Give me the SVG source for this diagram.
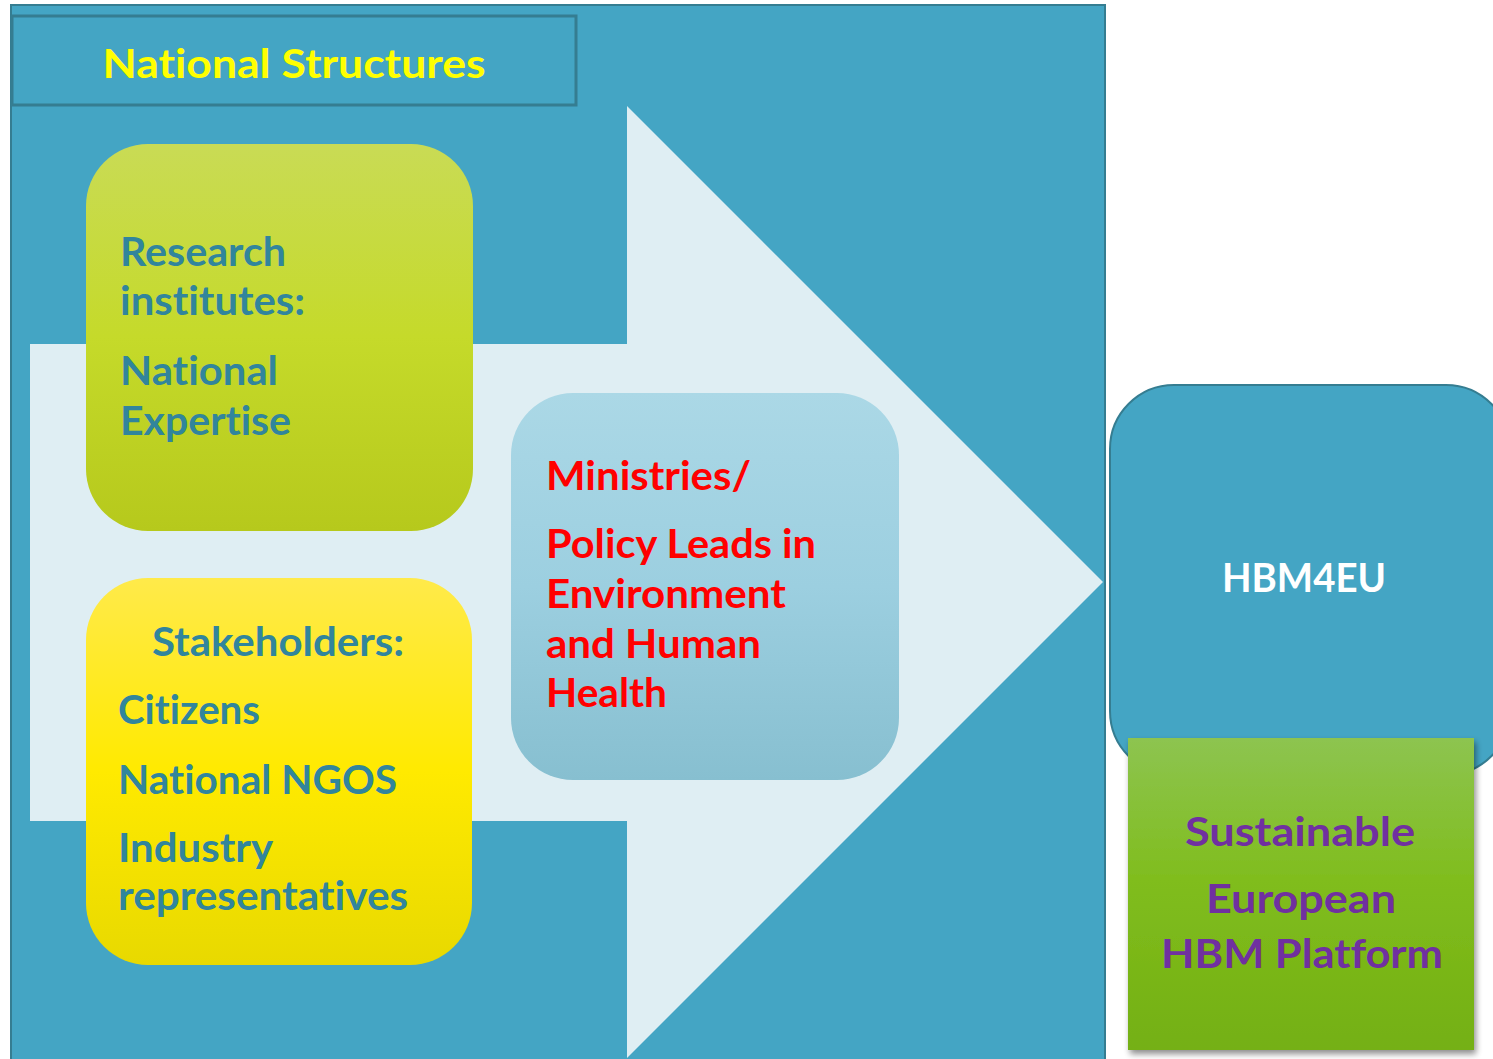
<svg xmlns="http://www.w3.org/2000/svg" width="1493" height="1059" viewBox="0 0 1493 1059">
<defs>
<style>
.t{font-family:Lato,"Open Sans","Liberation Sans",sans-serif;font-weight:bold;font-size:41px;font-variant-ligatures:none;font-feature-settings:"liga" 0,"clig" 0}
.teal{fill:#31859C}
.red{fill:#FF0000}
.pur{fill:#7030A0}
</style>
<linearGradient id="gResearch" x1="0" y1="0" x2="0" y2="1">
<stop offset="0" stop-color="#c9db55"/><stop offset="0.5" stop-color="#c5da2a"/><stop offset="1" stop-color="#b6c91c"/>
</linearGradient>
<linearGradient id="gStake" x1="0" y1="0" x2="0" y2="1">
<stop offset="0" stop-color="#ffea4a"/><stop offset="0.5" stop-color="#ffea00"/><stop offset="1" stop-color="#e8d900"/>
</linearGradient>
<linearGradient id="gMin" x1="0" y1="0" x2="0" y2="1">
<stop offset="0" stop-color="#abd8e6"/><stop offset="0.5" stop-color="#9ccfe0"/><stop offset="1" stop-color="#87bfd0"/>
</linearGradient>
<linearGradient id="gPlat" x1="0" y1="0" x2="0" y2="1">
<stop offset="0" stop-color="#8dc450"/><stop offset="0.45" stop-color="#80bd1e"/><stop offset="1" stop-color="#74b012"/>
</linearGradient>
<filter id="sh" x="-10%" y="-10%" width="125%" height="125%">
<feGaussianBlur in="SourceAlpha" stdDeviation="3"/>
<feOffset dx="2" dy="4"/>
<feComponentTransfer><feFuncA type="linear" slope="0.45"/></feComponentTransfer>
<feMerge><feMergeNode/><feMergeNode in="SourceGraphic"/></feMerge>
</filter>
</defs>
<rect width="1493" height="1059" fill="#ffffff"/>
<g id="panel">
<rect x="11" y="5" width="1094" height="1060" fill="#44a5c4" stroke="#357d91" stroke-width="2"/>
<polygon points="30,344 627,344 627,106 1103,582 627,1058 627,821 30,821" fill="#dfeef3"/>
</g>
<g id="header">
<rect x="12" y="16" width="564" height="89" fill="#44a5c4" stroke="#357d91" stroke-width="3"/>
<text class="t" x="294" y="78" text-anchor="middle" fill="#FFFF00" font-size="43" textLength="383" lengthAdjust="spacingAndGlyphs">National Structures</text>
</g>
<g id="research">
<rect x="86" y="144" width="387" height="387" rx="62" fill="url(#gResearch)"/>
<g class="t teal">
<text x="120" y="266" textLength="166" lengthAdjust="spacingAndGlyphs">Research</text>
<text x="120" y="315" textLength="185" lengthAdjust="spacingAndGlyphs">institutes:</text>
<text x="120" y="385" textLength="158" lengthAdjust="spacingAndGlyphs">National</text>
<text x="120" y="435" textLength="171" lengthAdjust="spacingAndGlyphs">Expertise</text>
</g>
</g>
<g id="stakeholders">
<rect x="86" y="578" width="386" height="387" rx="62" fill="url(#gStake)"/>
<g class="t teal">
<text x="152" y="656" textLength="252" lengthAdjust="spacingAndGlyphs">Stakeholders:</text>
<text x="118" y="724" textLength="142" lengthAdjust="spacingAndGlyphs">Citizens</text>
<text x="118" y="794" textLength="279" lengthAdjust="spacingAndGlyphs">National NGOS</text>
<text x="118" y="862" textLength="155" lengthAdjust="spacingAndGlyphs">Industry</text>
<text x="118" y="910" textLength="290" lengthAdjust="spacingAndGlyphs">representatives</text>
</g>
</g>
<g id="ministries">
<rect x="511" y="393" width="388" height="387" rx="62" fill="url(#gMin)"/>
<g class="t red">
<text x="546" y="490" textLength="205" lengthAdjust="spacingAndGlyphs">Ministries/</text>
<text x="546" y="558" textLength="270" lengthAdjust="spacingAndGlyphs">Policy Leads in</text>
<text x="546" y="608" textLength="240" lengthAdjust="spacingAndGlyphs">Environment</text>
<text x="546" y="658" textLength="215" lengthAdjust="spacingAndGlyphs">and Human</text>
<text x="546" y="707" textLength="121" lengthAdjust="spacingAndGlyphs">Health</text>
</g>
</g>
<g id="hbm4eu">
<rect x="1110" y="385" width="400" height="390" rx="64" fill="#44a5c4" stroke="#357d91" stroke-width="2"/>
<text class="t" x="1304" y="592" text-anchor="middle" fill="#ffffff" textLength="164" lengthAdjust="spacingAndGlyphs">HBM4EU</text>
</g>
<g id="platform">
<rect x="1128" y="738" width="346" height="312" fill="url(#gPlat)" filter="url(#sh)"/>
<g class="t pur" text-anchor="middle">
<text x="1300" y="846" textLength="230" lengthAdjust="spacingAndGlyphs">Sustainable</text>
<text x="1301" y="913" textLength="190" lengthAdjust="spacingAndGlyphs">European</text>
<text x="1302" y="968" textLength="282" lengthAdjust="spacingAndGlyphs">HBM Platform</text>
</g>
</g>
<g id="connectors"></g>
</svg>
